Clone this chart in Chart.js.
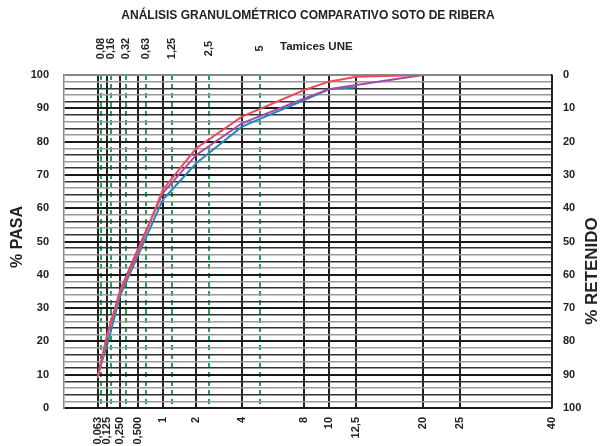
<!DOCTYPE html>
<html><head><meta charset="utf-8">
<script src="https://cdn.jsdelivr.net/npm/chart.js@4.4.0/dist/chart.umd.min.js"></script>
<style>html,body{margin:0;padding:0;background:#fff}canvas{display:block}</style>
</head><body>
<canvas id="c" width="602" height="446"></canvas>
<script>
// ---- data ----
const sieveSizes = [0.063, 0.125, 0.25, 0.5, 1, 2, 4, 8, 10, 12.5, 20];
const passRed    = [9, 22, 35, 47, 65.5, 78, 87.5, 95.5, 98, 99.5, 100];
const passPurple = [9.5, 22, 35.5, 48, 64.5, 76, 85.5, 93, 95.7, 97, 100];
const passBlue   = [10, 19, 34, 46, 62.5, 73.5, 84.5, 92.5, 95.7, 96.3, null];
const bottomTickValues = [0.063, 0.125, 0.25, 0.5, 1, 2, 4, 8, 10, 12.5, 20, 25, 40];
const bottomTickLabels = ['0,063','0,125','0,250','0,500','1','2','4','8','10','12,5','20','25','40'];
const topTickValues = [0.08, 0.16, 0.32, 0.63, 1.25, 2.5, 5];
const topTickLabels = ['0,08','0,16','0,32','0,63','1,25','2,5','5'];
const titleText = 'ANÁLISIS GRANULOMÉTRICO COMPARATIVO SOTO DE RIBERA';
const topAxisTitle = 'Tamices UNE';
const leftAxisTitle = '% PASA';
const rightAxisTitle = '% RETENIDO';

const FONT = "'Liberation Sans', Arial, sans-serif";
Chart.defaults.font.family = FONT;
Chart.defaults.color = '#222';

// power 0.45 scale (grading chart)
const EXP = 0.45;
const pw = v => Math.sign(v) * Math.pow(Math.abs(v), EXP);
const ipw = t => Math.sign(t) * Math.pow(Math.abs(t), 1 / EXP);
class PowerScale extends Chart.LinearScale {
  configure() {
    super.configure();
    this._ps = pw(this.min);
    this._pr = pw(this.max) - this._ps;
  }
  getPixelForValue(v) { return this.getPixelForDecimal((pw(v) - this._ps) / this._pr); }
  getValueForPixel(p) { return ipw(this.getDecimalForPixel(p) * this._pr + this._ps); }
}
PowerScale.id = 'power045';
PowerScale.defaults = Chart.LinearScale.defaults;
Chart.register(PowerScale);

const X_MIN = -0.00375, X_MAX = 40;

const toPts = arr => sieveSizes.map((s, i) => ({x: s, y: arr[i]}));

const textPlugin = {
  id: 'texts',
  afterDraw(chart) {
    const ctx = chart.ctx, ca = chart.chartArea;
    ctx.save();
    ctx.fillStyle = '#222';
    ctx.textAlign = 'center';
    ctx.textBaseline = 'alphabetic';
    ctx.font = 'bold 12px ' + FONT;
    ctx.fillText(titleText, (ca.left + ca.right) / 2, 19);
    ctx.textAlign = 'left';
    ctx.font = 'bold 11.5px ' + FONT;
    ctx.fillText(topAxisTitle, 280, 50);
    // top sieve labels
    const sx2 = chart.scales.x2;
    ctx.font = 'bold 11px ' + FONT;
    ctx.textAlign = 'center';
    ctx.textBaseline = 'middle';
    topTickValues.forEach((v, i) => {
      const x = sx2.getPixelForValue(v);
      ctx.save();
      ctx.translate(x, 48.5);
      ctx.rotate(-Math.PI / 2);
      ctx.fillText(topTickLabels[i], 0, 0);
      ctx.restore();
    });
    // axis titles
    ctx.font = 'bold 16px ' + FONT;
    ctx.save(); ctx.translate(18, 237); ctx.rotate(-Math.PI / 2); ctx.fillText(leftAxisTitle, 0, 0); ctx.restore();
    ctx.font = 'bold 17px ' + FONT;
    ctx.save(); ctx.translate(592, 271); ctx.rotate(-Math.PI / 2); ctx.fillText(rightAxisTitle, 0, 0); ctx.restore();
    ctx.restore();
  }
};

new Chart(document.getElementById('c'), {
  type: 'line',
  data: {
    datasets: [
      {data: toPts(passRed), borderColor: '#ee4a5c', borderWidth: 2, pointRadius: 0, tension: 0, xAxisID: 'x', yAxisID: 'y'},
      {data: toPts(passPurple), borderColor: '#a64aa8', borderWidth: 2, pointRadius: 0, tension: 0, xAxisID: 'x', yAxisID: 'y'},
      {data: toPts(passBlue), borderColor: '#2a86b6', borderWidth: 2, pointRadius: 0, tension: 0, xAxisID: 'x', yAxisID: 'y'}
    ]
  },
  options: {
    responsive: false,
    animation: false,
    devicePixelRatio: 1,
    layout: {padding: {top: 75, left: 0, right: 0, bottom: 0}},
    plugins: {legend: {display: false}, tooltip: {enabled: false}, title: {display: false}},
    scales: {
      x: {
        type: 'power045', position: 'bottom', min: X_MIN, max: X_MAX, bounds: 'data',
        afterBuildTicks: s => { s.ticks = bottomTickValues.map(v => ({value: v})); },
        afterFit: s => { s.height = 38; },
        ticks: {autoSkip: false, minRotation: 90, maxRotation: 90, padding: 9,
                font: {size: 11, weight: 'bold'}, color: '#222',
                callback: (v, i) => bottomTickLabels[i]},
        grid: {color: '#222', lineWidth: 2, drawTicks: false},
        border: {display: false}
      },
      x2: {
        type: 'power045', position: 'top', min: X_MIN, max: X_MAX, bounds: 'data',
        afterBuildTicks: s => { s.ticks = topTickValues.map(v => ({value: v})); },
        afterFit: s => { s.height = 0; },
        ticks: {display: false, autoSkip: false},
        grid: {color: '#1fa552', lineWidth: 2, drawTicks: false},
        border: {display: false, dash: [5, 4]}
      },
      y: {
        type: 'linear', position: 'left', min: 0, max: 100,
        afterFit: s => { s.width = 64; },
        ticks: {stepSize: 2, autoSkip: false, padding: 15, font: {size: 11, weight: 'bold'}, color: '#222',
                callback: v => (v % 10 === 0 ? String(v) : '')},
        grid: {
          drawTicks: false,
          color: c => { const v = c.tick.value; if (v === 100) return '#888'; if (v % 10 === 0) return '#1a1a1a'; return (v % 4 === 0) ? '#333' : '#999'; },
          lineWidth: c => { const v = c.tick.value; return (v % 10 === 0) ? 2 : 1.5; }
        },
        border: {display: true, color: '#888', width: 1.5}
      },
      y2: {
        type: 'linear', position: 'right', min: 0, max: 100, reverse: true,
        afterFit: s => { s.width = 50; },
        ticks: {stepSize: 10, padding: 11, font: {size: 11, weight: 'bold'}, color: '#222'},
        grid: {display: false, drawTicks: false},
        border: {display: true, color: '#222', width: 1.5}
      }
    }
  },
  plugins: [textPlugin]
});
</script>
</body></html>
